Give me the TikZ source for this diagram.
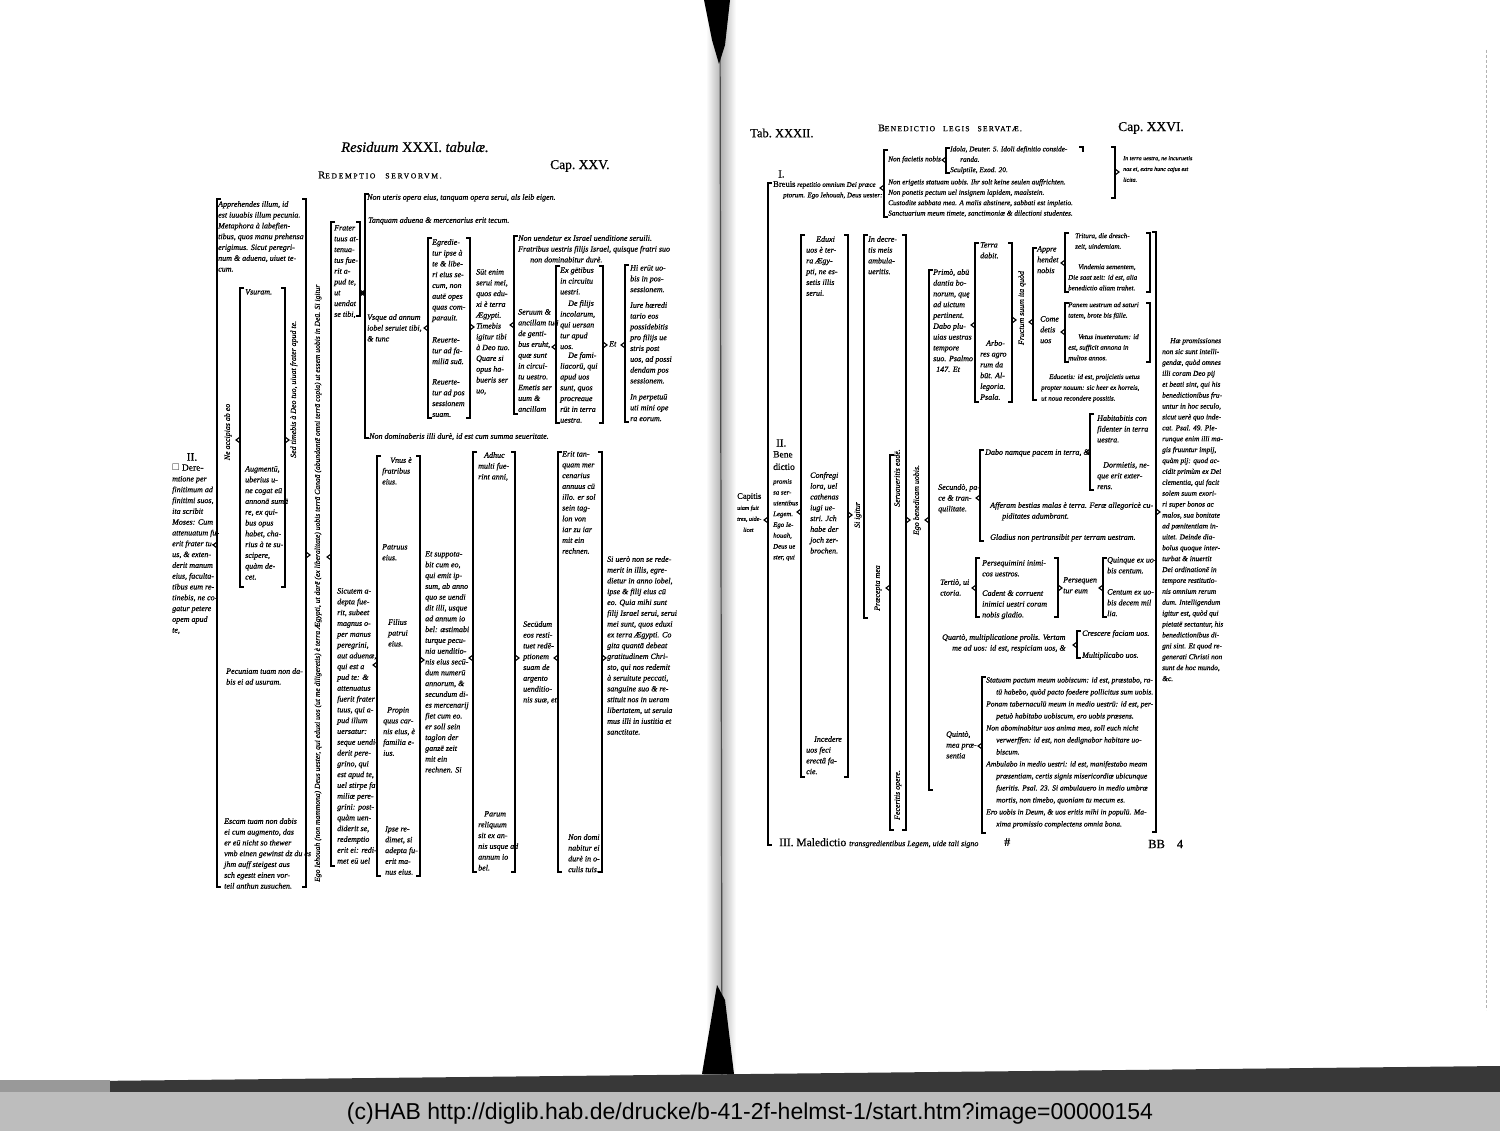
\documentclass[tikz,border=0pt]{standalone}
\usepackage{fontspec}
\usepackage{amssymb}
\newfontfamily\barfont{Liberation Sans}
\newfontfamily\txtfont[FakeBold=0.6]{Liberation Serif}
\newcommand{\fsc}[1]{{\fontsize{7.6}{9}\selectfont #1}}

\tikzset{
  txt/.style={anchor=north west, inner sep=0pt, align=left, font=\txtfont\fontsize{8}{10.8}\selectfont\itshape},
  sml/.style={txt, font=\txtfont\fontsize{7.3}{10.4}\selectfont\itshape},
  vtxt/.style={rotate=90, inner sep=0pt, font=\txtfont\fontsize{7.9}{9}\selectfont\itshape},
  head/.style={anchor=west, inner sep=0pt, font=\txtfont\fontsize{13.5}{15}\selectfont},
  brk/.style={line width=1.1pt, black},
}
% bracket pieces: x, top, bottom / x, y
\newcommand{\brkL}[3]{\draw[brk] (#1+4,#2) -- (#1,#2) -- (#1,#3) -- (#1+4,#3);}
\newcommand{\brkR}[3]{\draw[brk] (#1-4,#2) -- (#1,#2) -- (#1,#3) -- (#1-4,#3);}
\newcommand{\tipL}[2]{\draw[brk] (#1,#2-3) -- (#1-4,#2) -- (#1,#2+3);}
\newcommand{\tipR}[2]{\draw[brk] (#1,#2-3) -- (#1+4,#2) -- (#1,#2+3);}

\begin{document}
\begin{tikzpicture}[x=1pt,y=-1pt]
\useasboundingbox (0,0) rectangle (1500,1131);

% Paper and gutter
\fill[white] (0,0) rectangle (1500,1093);
\shade[left color=white, right color=white, middle color=black!30] (706,0) rectangle (736,1075);
\draw[black!70, line width=1.2pt] (720,0) -- (722,1075);
\fill[black] (704,0) -- (730,0) -- (725,45) -- (719,64) -- (712,40) -- cycle;
\fill[black] (717,985) -- (725,1000) -- (734,1074) -- (702,1074) -- cycle;
\draw[black!30, densely dashed] (1486,50) -- (1486,1010);

% Scan edge and credit bar
\fill[black!78] (0,1082) -- (1500,1066) -- (1500,1093) -- (0,1093) -- cycle;
\fill[black!40] (0,1080) rectangle (110,1093);
\fill[black!26] (0,1092) rectangle (1500,1131);
\node[font=\barfont\fontsize{23}{26}\selectfont, inner sep=0pt] (credit) at (750,1114)
  {(c)HAB http://diglib.hab.de/drucke/b-41-2f-helmst-1/start.htm?image=00000154};

% ---------------- Left page ----------------
\node[head, anchor=center, font=\txtfont\fontsize{14.5}{16}\selectfont] (restit) at (415,147) {\textit{Residuum} XXXI. \textit{tabulæ.}};
\node[head, font=\txtfont\fontsize{10.5}{12}\selectfont] (redtit) at (318,175)
  {{\addfontfeature{LetterSpace=22}R\fsc{EDEMPTIO}\hspace{10pt}\fsc{SERVORVM.}}};
\node[head] (cap25) at (550,166) {Cap.\ XXV.};

\node[txt] (app) at (218,201) {Apprehendes illum, id\\ est iuuabis illum pecunia.\\ Metaphora à labefien-\\ tibus, quos manu prehensa\\ erigimus. Sicut peregri-\\ num \& aduena, uiuet te-\\ cum.};
\node[head, anchor=center, font=\txtfont\fontsize{11.5}{13}\selectfont] (secII) at (192,457) {II.};
\node[txt] (dere) at (172,464) {{\upshape\fontsize{9.5}{10.8}\selectfont$\square$ Dere-}\\ mtione per\\ finitimum ad\\ finitimi suos,\\ ita scribit\\ Moses: Cum\\ attenuatum fu-\\ erit frater tu-\\ us, \& exten-\\ derit manum\\ eius, faculta-\\ tibus eum re-\\ tinebis, ne co-\\ gatur petere\\ opem apud\\ te,};
\node[vtxt] (neacc) at (228,432) {Ne accipias ab eo};
\node[txt] (usur) at (245,289) {Vsuram.};
\node[txt] (augm) at (245,466) {Augmentū,\\ uberius u-\\ ne cogat eū\\ annonā sumā\\ re, ex qui-\\ bus opus\\ habet, cha-\\ rius à te su-\\ scipere,\\ quàm de-\\ cet.};
\node[vtxt, anchor=west] (sedtim) at (294,458) {Sed timebis à Deo tuo, uiuat frater apud te.};
\node[txt] (pecun) at (226,668) {Pecuniam tuam non da-\\ bis ei ad usuram.};
\node[txt] (escam) at (224,818) {Escam tuam non dabis\\ ei cum augmento, das\\ er eū nicht so thewer\\ vmb einen gewinst dz du es\\ jhm auff steigest aus\\ sch egestt einen vor-\\ teil anthun zusuchen.};
\node[vtxt, anchor=west, font=\txtfont\fontsize{7.6}{9}\selectfont\itshape] (egoieh) at (318,882) {Ego Iehouah (non mammona) Deus uester, qui eduxi uos (ut me diligeretis) è terra Ægypti, ut darē (ex liberalitate) uobis terrā Canaā (abundantē omni terrā copia) ut essem uobis in Deū. Si igitur};

\node[txt] (frater) at (334,225) {Frater\\ tuus at-\\ tenua-\\ tus fue-\\ rit a-\\ pud te,\\ ut\\ uendat\\ se tibi,};
\node[txt] (nonut) at (367,194) {Non uteris opera eius, tanquam opera serui, als leib eigen.};
\node[txt] (tanq) at (368,217) {Tanquam aduena \& mercenarius erit tecum.};
\node[txt] (usque) at (367,314) {Vsque ad annum\\ iobel seruiet tibi,\\ \& tunc};
\node[txt] (egred) at (432,239) {Egredie-\\ tur ipse à\\ te \& libe-\\ ri eius se-\\ cum, non\\ autē opes\\ quas com-\\ parauit.};
\node[txt] (reu1) at (432,337) {Reuerte-\\ tur ad fa-\\ miliā suā.};
\node[txt] (reu2) at (432,379) {Reuerte-\\ tur ad pos\\ sessionem\\ suam.};
\node[txt] (sunt) at (476,269) {Sūt enim\\ serui mei,\\ quos edu-\\ xi è terra\\ Ægypti.\\ Timebis\\ igitur tibi\\ à Deo tuo.\\ Quare si\\ opus ha-\\ bueris ser\\ uo,};
\node[txt] (nonuend) at (518,235) {Non uendetur ex Israel uenditione seruili.\\ Fratribus uestris filijs Israel, quisque fratri suo\\ \hspace*{12pt}non dominabitur durè.};
\node[txt] (seruum) at (518,309) {Seruum \&\\ ancillam tuā\\ de genti-\\ bus eruht,\\ quæ sunt\\ in circui-\\ tu uestro.\\ Emetis ser\\ uum \&\\ ancillam};
\node[txt] (exgent) at (560,267) {Ex gētibus\\ in circuitu\\ uestri.};
\node[txt] (defil) at (560,300) {\hspace*{8pt}De filijs\\ incolarum,\\ qui uersan\\ tur apud\\ uos.};
\node[txt] (defam) at (560,352) {\hspace*{8pt}De fami-\\ liacorū, qui\\ apud uos\\ sunt, quos\\ procreaue\\ rūt in terra\\ uestra.};
\node[txt] (et) at (609,341) {Et};
\node[txt] (hierunt) at (630,265) {Hi erūt uo-\\ bis in pos-\\ sessionem.};
\node[txt] (iure) at (630,302) {Iure hæredi\\ tario eos\\ possidebitis\\ pro filijs ue\\ stris post\\ uos, ad possi\\ dendam pos\\ sessionem.};
\node[txt] (inperp) at (630,394) {In perpetuū\\ uti mini ope\\ ra eorum.};
\node[txt] (nondom) at (369,433) {Non dominaberis illi durè, id est cum summa seueritate.};

\node[txt] (sicut) at (337,588) {Sicutem a-\\ depta fue-\\ rit, subeet\\ magnus o-\\ per manus\\ peregrini,\\ aut aduenæ,\\ qui est a\\ pud te: \&\\ attenuatus\\ fuerit frater\\ tuus, qui a-\\ pud illum\\ uersatur:\\ seque uendi-\\ derit pere-\\ grino, qui\\ est apud te,\\ uel stirpe fa\\ miliæ pere-\\ grini: post-\\ quàm uen-\\ diderit se,\\ redemptio\\ erit ei: redi-\\ met eū uel};
\node[txt] (vnus) at (382,457) {\hspace*{8pt}Vnus è\\ fratribus\\ eius.};
\node[txt] (patr) at (382,544) {Patruus\\ eius.};
\node[txt] (filius) at (388,619) {Filius\\ patrui\\ eius.};
\node[txt] (propin) at (383,707) {\hspace*{4pt}Propin\\ quus car-\\ nis eius, è\\ familia e-\\ ius.};
\node[txt] (ipse) at (385,826) {Ipse re-\\ dimet, si\\ adepta fu-\\ erit ma-\\ nus eius.};
\node[txt] (etsupp) at (425,551) {Et suppota-\\ bit cum eo,\\ qui emit ip-\\ sum, ab anno\\ quo se uendi\\ dit illi, usque\\ ad annum io\\ bel: æstimabi\\ turque pecu-\\ nia uenditio-\\ nis eius secū-\\ dum numerū\\ annorum, \&\\ secundum di-\\ es mercenarij\\ fiet cum eo.\\ er soll sein\\ taglon der\\ ganzē zeit\\ mit ein\\ rechnen. Si};
\node[txt] (adhuc) at (478,452) {\hspace*{6pt}Adhuc\\ multi fue-\\ rint anni,};
\node[txt] (secund) at (523,621) {Secūdum\\ eos resti-\\ tuet redē-\\ ptionem\\ suam de\\ argento\\ uenditio-\\ nis suæ, et};
\node[txt] (parum) at (478,811) {\hspace*{6pt}Parum\\ reliquum\\ sit ex an-\\ nis usque ad\\ annum io\\ bel.};
\node[txt] (erit) at (562,451) {Erit tan-\\ quam mer\\ cenarius\\ annuus cū\\ illo. er sol\\ sein tag-\\ lon von\\ iar zu iar\\ mit ein\\ rechnen.};
\node[txt] (nondomi) at (568,834) {Non domi\\ nabitur ei\\ durè in o-\\ culis tuis.};
\node[txt] (siuero) at (607,556) {Si uerò non se rede-\\ merit in illis, egre-\\ dietur in anno iobel,\\ ipse \& filij eius cū\\ eo. Quia mihi sunt\\ filij Israel serui, serui\\ mei sunt, quos eduxi\\ ex terra Ægypti. Co\\ gita quantā debeat\\ gratitudinem Chri-\\ sto, qui nos redemit\\ à seruitute peccati,\\ sanguine suo \& re-\\ stituit nos in ueram\\ libertatem, ut seruia\\ mus illi in iustitia et\\ sanctitate.};

% Brackets, left page
\brkL{217}{199}{887} \tipL{217}{545}
\brkR{306}{199}{887} \tipR{306}{555}
\brkL{240}{288}{587} \tipL{240}{440}
\brkR{285}{288}{587} \tipR{285}{440}
\brkL{331}{222}{866} \tipL{331}{557}
\brkR{360}{222}{316} \tipR{360}{293}
\brkL{365}{194}{438} \tipL{365}{293}
\brkL{428}{238}{418} \tipL{428}{328}
\brkR{470}{238}{418} \tipR{470}{327}
\brkL{514}{236}{414} \tipL{514}{325}
\brkL{556}{266}{423} \tipL{556}{347}
\brkR{603}{266}{423} \tipR{603}{345}
\brkL{625}{265}{422} \tipL{625}{345}
\brkL{377}{456}{876} \tipL{377}{665}
\brkR{420}{456}{876} \tipR{420}{660}
\brkL{473}{452}{872} \tipL{473}{658}
\brkR{515}{452}{872} \tipR{515}{658}
\brkL{558}{452}{872} \tipL{558}{658}
\brkR{602}{452}{872} \tipR{602}{658}

% ---------------- Right page ----------------
\node[head, font=\txtfont\fontsize{12.5}{14}\selectfont] (tab32) at (750,133) {Tab.\ XXXII.};
\node[head, font=\txtfont\fontsize{10}{12}\selectfont] (bentit) at (878,128)
  {{\addfontfeature{LetterSpace=16}B\fsc{ENEDICTIO}\hspace{8pt}\fsc{LEGIS}\hspace{8pt}\fsc{SERVATÆ.}}};
\node[head] (cap26) at (1118,128) {Cap.\ XXVI.};

\node[head, font=\txtfont\fontsize{11}{13}\selectfont] (secI) at (778,174) {I.};
\node[sml, font=\txtfont\fontsize{7}{10.5}\selectfont\itshape] (breuis) at (773,181) {{\upshape\fontsize{8.5}{10.5}\selectfont Breuis} repetitio omnium Dei præce\\ \hspace*{10pt}ptorum. Ego Iehouah, Deus uester:};
\node[sml] (nonfac) at (888,156) {Non facietis nobis};
\node[sml] (idola) at (950,146) {Idola, Deuter. 5. Idoli definitio conside-\\ \hspace*{10pt}randa.\\ Sculptile, Exod. 20.};
\node[sml] (nonerig) at (888,179) {Non erigetis statuam uobis. Ihr solt keine seulen auffrichten.\\ Non ponetis pectum uel insignem lapidem, maalstein.\\ Custodite sabbata mea. A malis abstinere, sabbati est impletio.\\ Sanctuarium meum timete, sanctimoniæ \& dilectioni studentes.};
\node[txt, font=\txtfont\fontsize{6}{10.8}\selectfont\itshape] (interra) at (1123,156) {In terra uestra, ne incuruetis\\ nos ei, extra hunc cajus est\\ licita.};
\brkL{768}{183}{845} \tipL{768}{520}
\brkL{884}{150}{217} \tipL{884}{188}
\brkL{946}{148}{173} \tipL{946}{160}
\draw[brk] (1079,147) -- (1083,147) -- (1083,152);
\brkR{1115}{147}{198} \tipR{1115}{172}

\node[head, font=\txtfont\fontsize{11}{13}\selectfont] (secII2) at (776,443) {II.};
\node[txt, font=\txtfont\fontsize{9.5}{12.5}\selectfont] (bene) at (773,451) {Bene\\ dictio};
\node[txt, font=\txtfont\fontsize{6.8}{10.8}\selectfont\itshape] (promis) at (773,479) {promis\\ sa ser-\\ uientibus\\ Legem.\\ Ego Ie-\\ houah,\\ Deus ue\\ ster, qui};
\node[txt, font=\txtfont\fontsize{6}{11}\selectfont\itshape] (capitis) at (737,493) {{\upshape\fontsize{8.5}{11}\selectfont Capitis}\\ uiam fuit\\ tres, uide-\\ \hspace*{6pt}licet};
\node[txt] (eduxi) at (806,236) {\hspace*{10pt}Eduxi\\ uos è ter-\\ ra Ægy-\\ pti, ne es-\\ setis illis\\ serui.};
\node[txt] (confregi) at (810,472) {Confregi\\ lora, uel\\ cathenas\\ iugi ue-\\ stri. Jch\\ habe der\\ joch zer-\\ brochen.};
\node[txt] (incedere) at (806,736) {\hspace*{8pt}Incedere\\ uos feci\\ erectâ fa-\\ cie.};
\brkL{801}{235}{777} \tipL{801}{512}
\brkR{848}{235}{777} \tipR{848}{515}
\node[vtxt] (siigitur) at (858,515) {Si igitur};
\node[txt] (indecr) at (868,236) {In decre-\\ tis meis\\ ambula-\\ ueritis.};
\node[vtxt] (praecepta) at (878,588) {Præcepta mea};
\node[vtxt] (seruau) at (897,478) {Seruaueritis eadē.};
\node[vtxt] (fecer) at (898,795) {Feceritis opere.};
\node[vtxt] (egobene) at (917,500) {Ego benedicam uobis.};
\brkL{864}{235}{618}
\brkR{906}{235}{830} \tipR{906}{520}
\brkL{890}{455}{830} \tipL{890}{588}
\brkL{929}{270}{790} \tipL{929}{520}

\node[txt] (primo) at (933,269) {Primò, abū\\ dantia bo-\\ norum, quę\\ ad uictum\\ pertinent.\\ Dabo plu-\\ uias uestras\\ tempore\\ suo. Psalmo\\ \hspace*{3pt}147. Et};
\node[txt] (terra) at (980,242) {Terra\\ dabit.};
\node[txt] (arbo) at (980,340) {\hspace*{6pt}Arbo-\\ res agro\\ rum da\\ būt. Al-\\ legoria.\\ Psala.};
\brkL{975}{243}{402} \tipL{975}{325}
\brkR{1012}{243}{402} \tipR{1012}{320}
\node[vtxt] (fructum) at (1022,308) {Fructum suum ita quòd};
\brkL{1033}{248}{400} \tipL{1033}{322}
\node[txt] (appre) at (1037,246) {Appre\\ hendet\\ nobis};
\node[sml, font=\txtfont\fontsize{7}{10.6}\selectfont\itshape] (tritura) at (1075,233) {Tritura, die dresch-\\ zeit, uindemiam.};
\node[sml, font=\txtfont\fontsize{7}{10.6}\selectfont\itshape] (vindem) at (1068,264) {\hspace*{10pt}Vindemia sementem,\\ Die saat zeit: id est, alia\\ benedictio aliam trahet.};
\brkL{1065}{233}{292} \tipL{1065}{263}
\brkR{1150}{233}{292}
\node[txt] (comed) at (1040,316) {Come\\ detis\\ uos};
\node[sml, font=\txtfont\fontsize{7}{10.6}\selectfont\itshape] (panem) at (1068,302) {Panem uestrum ad saturi\\ tatem, brote bis fülle.};
\node[sml, font=\txtfont\fontsize{7}{10.6}\selectfont\itshape] (vetus) at (1068,334) {\hspace*{10pt}Vetus inueteratum: id\\ est, sufficit annona in\\ multos annos.};
\brkL{1065}{303}{362} \tipL{1065}{332}
\brkR{1150}{303}{362}
\node[sml, font=\txtfont\fontsize{6.9}{10.8}\selectfont\itshape] (educ) at (1041,374) {\hspace*{8pt}Educetis: id est, proijcietis uetus\\ propter nouum: sic heer ex horreis,\\ ut noua recondere possitis.};

\brkR{1156}{232}{832} \tipR{1156}{512}
\node[txt, font=\txtfont\fontsize{7.4}{10.9}\selectfont\itshape] (hae) at (1162,338) {\hspace*{8pt}Hæ promissiones\\ non sic sunt intelli-\\ gendæ, quòd omnes\\ illi coram Deo pij\\ et beati sint, qui his\\ benedictionibus fru-\\ untur in hoc seculo,\\ sicut uerè quo inde-\\ cat. Psal. 49. Ple-\\ runque enim illi ma-\\ gis fruuntur impij,\\ quàm pij: quod ac-\\ cidit primùm ex Dei\\ clementia, qui facit\\ solem suum exori-\\ ri super bonos ac\\ malos, sua bonitate\\ ad pœnitentiam in-\\ uitet. Deinde dia-\\ bolus quoque inter-\\ turbat \& inuertit\\ Dei ordinationē in\\ tempore restitutio-\\ nis omnium rerum\\ dum. Intelligendum\\ igitur est, quòd qui\\ pietatē sectantur, his\\ benedictionibus di-\\ gni sint. Et quod re-\\ generati Christi non\\ sunt de hoc mundo,\\ \&c.};

\node[txt] (secundo) at (938,484) {Secundò, pa-\\ ce \& tran-\\ quilitate.};
\brkL{980}{450}{541} \tipL{980}{498}
\node[txt] (dabo) at (985,449) {Dabo namque pacem in terra, \&};
\brkL{1090}{414}{490} \tipL{1090}{452}
\node[txt] (habit) at (1097,415) {Habitabitis con\\ fidenter in terra\\ uestra.};
\node[txt] (dorm) at (1097,462) {\hspace*{6pt}Dormietis, ne-\\ que erit exter-\\ rens.};
\node[txt] (afferam) at (990,502) {Afferam bestias malas è terra. Feræ allegoricè cu-\\ \hspace*{12pt}piditates adumbrant.};
\node[txt] (gladius) at (990,534) {Gladius non pertransibit per terram uestram.};

\node[txt] (tertio) at (940,579) {Tertiò, ui\\ ctoria.};
\brkL{976}{558}{617} \tipL{976}{588}
\brkR{1058}{558}{617} \tipR{1058}{588}
\node[txt] (persq) at (982,560) {Persequimini inimi-\\ cos uestros.};
\node[txt] (cadent) at (982,590) {Cadent \& corruent\\ inimici uestri coram\\ nobis gladio.};
\node[txt] (persqn) at (1063,577) {Persequen\\ tur eum};
\brkL{1103}{558}{617} \tipL{1103}{588}
\node[txt] (quinq) at (1107,557) {Quinque ex uo-\\ bis centum.};
\node[txt] (centum) at (1107,589) {Centum ex uo-\\ bis decem mil\\ lia.};

\node[txt] (quarto) at (942,634) {Quartò, multiplicatione prolis. Vertam\\ \hspace*{10pt}me ad uos: id est, respiciam uos, \&};
\brkL{1077}{631}{658} \tipL{1077}{645}
\node[txt] (cresc) at (1082,630) {Crescere faciam uos.};
\node[txt] (multip) at (1082,652) {Multiplicabo uos.};

\node[txt] (quinto) at (946,731) {Quintò,\\ mea præ-\\ sentia};
\brkL{982}{677}{833} \tipL{982}{746}
\node[txt, font=\txtfont\fontsize{7.6}{12}\selectfont\itshape] (statuam) at (986,677) {Statuam pactum meum uobiscum: id est, præstabo, ra-\\ \hspace*{10pt}tū habebo, quòd pacto foedere pollicitus sum uobis.\\ Ponam tabernaculū meum in medio uestrū: id est, per-\\ \hspace*{10pt}petuò habitabo uobiscum, ero uobis præsens.\\ Non abominabitur uos anima mea, soll euch nicht\\ \hspace*{10pt}verwerffen: id est, non dedignabor habitare uo-\\ \hspace*{10pt}biscum.\\ Ambulabo in medio uestri: id est, manifestabo meam\\ \hspace*{10pt}præsentiam, certis signis misericordiæ ubicunque\\ \hspace*{10pt}fueritis. Psal. 23. Si ambulauero in medio umbræ\\ \hspace*{10pt}mortis, non timebo, quoniam tu mecum es.\\ Ero uobis in Deum, \& uos eritis mihi in populū. Ma-\\ \hspace*{10pt}xima promissio complectens omnia bona.};

\node[head, font=\txtfont\fontsize{11.5}{13}\selectfont] (maledic) at (779,843)
  {III.\ Maledictio {\itshape\fontsize{8}{9}\selectfont transgredientibus Legem, uide tali signo}};
\node[head, font=\txtfont\fontsize{12}{14}\selectfont] (signo) at (1004,842) {\#};
\node[head, font=\txtfont\fontsize{12.5}{14}\selectfont] (bb4) at (1148,844) {BB\hspace{12pt}4};
\end{tikzpicture}
\end{document}
